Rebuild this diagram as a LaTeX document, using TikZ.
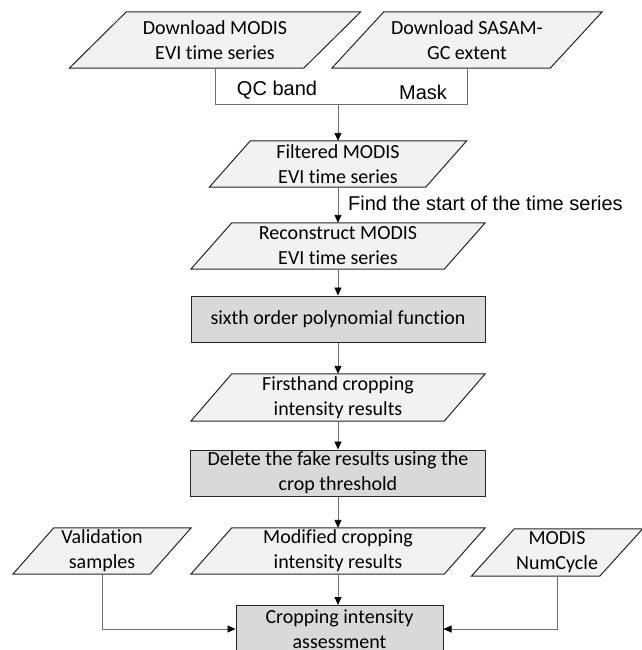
\documentclass[tikz,border=0pt]{standalone}
\usepackage{fontspec}
\setmainfont{Carlito}[Ligatures={NoCommon}]
\newfontfamily\labelfont{Liberation Sans}
\usetikzlibrary{arrows.meta,backgrounds}
\definecolor{parafill}{HTML}{F2F2F2}
\definecolor{boxfill}{HTML}{D9D9D9}
\definecolor{conn}{HTML}{6E6E6E}
\begin{document}
\begin{tikzpicture}[x=1pt,y=-1pt,
  txt/.style={inner sep=0pt, align=center, font=\fontsize{20}{25}\selectfont, text=black},
  paranode/.style={txt, minimum width=#1, minimum height=46pt},
  boxnode/.style={txt, draw=black!85, line width=1pt, fill=boxfill, minimum height=46pt},
  parashape/.style={draw=black!85, line width=1pt, fill=parafill},
  conline/.style={draw=conn, line width=0.9pt},
  arr/.style={conline, -{Triangle[length=8pt,width=7pt,color=black]}},
  lbl/.style={inner sep=0pt, font=\labelfont\fontsize{20}{24}\selectfont}
]
\useasboundingbox (0,0) rectangle (641,650);

% parallelogram nodes
\node[paranode=234pt, minimum height=56pt] (dl1) at (215,40) {Download MODIS\\EVI time series};
\node[paranode=218pt, minimum height=56pt] (dl2) at (467,40) {Download SASAM-\\GC extent};
\node[paranode=216pt] (filt) at (338,164) {Filtered MODIS\\EVI time series};
\node[paranode=253pt] (rec) at (338,246) {Reconstruct MODIS\\EVI time series};
\node[boxnode, minimum width=294pt] (poly) at (338,319) {sixth order polynomial function};
\node[paranode=253pt, minimum height=47pt] (first) at (338,397.5) {Firsthand cropping\\intensity results};
\node[boxnode, minimum width=295pt] (del) at (338,473) {Delete the fake results using the\\crop threshold};
\node[paranode=253pt] (mod) at (338,551) {Modified cropping\\intensity results};
\node[paranode=137pt] (val) at (102,551) {Validation\\samples};
\node[paranode=128pt, minimum height=47pt] (nc) at (557,552.5) {MODIS\\NumCycle};
\node[boxnode, minimum width=207pt, minimum height=47pt] (ass) at (339.5,629) {Cropping intensity\\assessment};

\begin{scope}[on background layer]
  \foreach \n/\s in {dl1/28.5, dl2/26, filt/20.5, rec/20.5, first/20.5, mod/20.5, val/20.5, nc/21.5}{
    \draw[parashape] ([xshift=\s pt]\n.north west) -- ([xshift=\s pt]\n.north east)
      -- ([xshift=-\s pt]\n.south east) -- ([xshift=-\s pt]\n.south west) -- cycle;
  }
\end{scope}

% top merge
\coordinate (j1) at (dl1.south |- 0,104);
\coordinate (j2) at (dl2.south |- 0,104);
\coordinate (jm) at (filt.north |- 0,104);
\draw[conline] (dl1.south) -- (j1) -- (j2) -- (dl2.south);
\draw[arr] (jm) -- (filt.north);
\node[lbl] (qc) at (277,90) {QC band};
\node[lbl] (mask) at (423,92) {Mask};

\draw[arr] (filt.south) -- (rec.north);
\node[lbl, anchor=west] (find) at (348,203) {Find the start of the time series};
\draw[arr] (rec.south) -- (poly.north);
\draw[arr] (poly.south) -- (first.north);
\draw[arr] (first.south) -- (del.north);
\draw[arr] (del.south) -- (mod.north);
\draw[arr] (mod.south) -- (mod.south |- ass.north);
\draw[arr] (val.south) |- (ass.west);
\draw[arr] (nc.south) |- (ass.east);
\end{tikzpicture}
\end{document}
